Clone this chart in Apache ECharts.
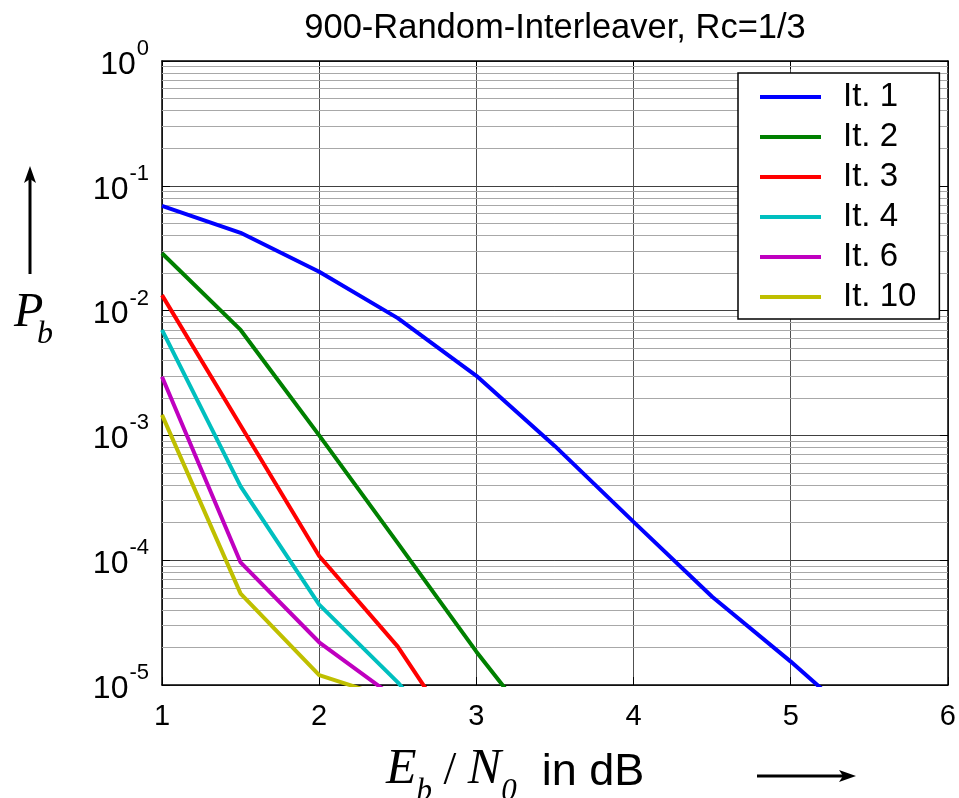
<!DOCTYPE html>
<html lang="en">
<head>
    <meta charset="utf-8">
    <title>900-Random-Interleaver, Rc=1/3</title>
    <script src="https://cdn.jsdelivr.net/npm/echarts@6/dist/echarts.min.js"></script>
    <style>
        html, body {
            margin: 0;
            padding: 0;
            background: #fff;
        }
        #main {
            width: 959px;
            height: 798px;
        }
    </style>
</head>
<body>
<div id="main"></div>
<script>
    // Eb/N0 in dB
    var ebno = [1, 1.5, 2, 2.5, 3, 3.5, 4, 4.5, 5, 5.5];
    // bit error rate per iteration (last points lie below the 1e-5 limit and get clipped)
    var it1 = [0.069, 0.042, 0.0205, 0.0087, 0.003, 0.00082, 0.000203, 0.000051, 0.0000154, 0.0000043];
    var it2 = [0.0288, 0.0070, 0.001, 0.000137, 0.0000185, 0.0000029];
    var it3 = [0.0133, 0.0012, 0.000108, 0.0000203, 0.0000023];
    var it4 = [0.0070, 0.00039, 0.000044, 0.0000105, 0.000002];
    var it6 = [0.00295, 0.000096, 0.000022, 0.0000076];
    var it10 = [0.00146, 0.000054, 0.000012, 0.0000075];

    var names = ['It. 1', 'It. 2', 'It. 3', 'It. 4', 'It. 6', 'It. 10'];
    var colors = ['#0000ff', '#008000', '#ff0000', '#00bfbf', '#bf00bf', '#bfbf00'];
    var xTicks = [1, 2, 3, 4, 5, 6];
    var decades = [-5, -4, -3, -2, -1, 0];

    var sans = '"Liberation Sans", Arial, sans-serif';
    var serif = '"Liberation Serif", "Times New Roman", serif';

    function pairs(ys) {
        var out = [];
        for (var i = 0; i < ys.length; i++) {
            out.push([ebno[i], ys[i]]);
        }
        return out;
    }

    // minor grid lines 2..9 inside each decade
    var minorLines = [];
    for (var d = 0; d < decades.length - 1; d++) {
        for (var m = 2; m <= 9; m++) {
            minorLines.push({yAxis: m * Math.pow(10, decades[d])});
        }
    }

    var allData = [it1, it2, it3, it4, it6, it10];
    var series = [{
        name: 'grid',
        type: 'line',
        data: [],
        z: 1,
        silent: true,
        markLine: {
            silent: true,
            symbol: 'none',
            precision: 12,
            label: {show: false},
            lineStyle: {color: '#a8a8a8', width: 1, type: 'solid'},
            emphasis: {disabled: true},
            animation: false,
            data: minorLines
        }
    }];
    for (var s = 0; s < allData.length; s++) {
        series.push({
            name: names[s],
            type: 'line',
            data: pairs(allData[s]),
            showSymbol: false,
            symbol: 'none',
            clip: true,
            z: 10,
            color: colors[s],
            lineStyle: {color: colors[s], width: 4}
        });
    }

    var chart = echarts.init(document.getElementById('main'));
    var option = {
        animation: false,
        backgroundColor: '#fff',
        grid: {left: 162, top: 61, width: 791, height: 624, containLabel: false},
        legend: {
            data: names,
            orient: 'vertical',
            left: 738,
            top: 73,
            z: 20,
            padding: [4, 23, 2, 22],
            itemGap: 0,
            itemWidth: 61,
            itemHeight: 4,
            icon: 'rect',
            selectedMode: false,
            backgroundColor: '#fff',
            borderColor: '#000',
            borderWidth: 1.5,
            borderRadius: 0,
            textStyle: {
                fontFamily: sans,
                fontSize: 33,
                lineHeight: 40,
                color: '#000',
                padding: [0, 0, 0, 17]
            }
        },
        xAxis: [{
            type: 'value',
            min: 1,
            max: 6,
            interval: 1,
            axisLine: {show: true, lineStyle: {color: '#000', width: 1.5}},
            axisTick: {show: true, inside: true, length: 8, lineStyle: {color: '#000'}},
            axisLabel: {
                fontFamily: sans,
                fontSize: 29,
                color: '#000',
                margin: 17,
                formatter: function (v) {
                    return xTicks.indexOf(v) >= 0 ? String(v) : '';
                }
            },
            splitLine: {show: true, lineStyle: {color: '#505050', width: 1}}
        }, {
            type: 'value',
            position: 'top',
            min: 1,
            max: 6,
            interval: 1,
            axisLine: {show: true, lineStyle: {color: '#000', width: 1.5}},
            axisTick: {show: true, inside: true, length: 8, lineStyle: {color: '#000'}},
            axisLabel: {show: false},
            splitLine: {show: false}
        }],
        yAxis: [{
            type: 'log',
            logBase: 10,
            min: 1e-5,
            max: 1,
            splitNumber: 5,
            axisLine: {show: true, lineStyle: {color: '#000', width: 1.5}},
            axisTick: {show: true, inside: true, length: 8, lineStyle: {color: '#000'}},
            axisLabel: {
                color: '#000',
                margin: 13,
                padding: [8, 0, 0, 0],
                formatter: function (v) {
                    var e = Math.round(Math.log(v) / Math.LN10);
                    return '{b|10}{s|' + e + '}';
                },
                rich: {
                    b: {fontFamily: sans, fontSize: 32, lineHeight: 32, verticalAlign: 'bottom',
                        padding: [0, 0, 0, 0], color: '#000'},
                    s: {fontFamily: sans, fontSize: 22, lineHeight: 22, verticalAlign: 'bottom',
                        padding: [0, 0, 21, 1], color: '#000'}
                }
            },
            splitLine: {show: true, lineStyle: {color: '#404040', width: 1}}
        }, {
            type: 'log',
            logBase: 10,
            min: 1e-5,
            max: 1,
            splitNumber: 5,
            position: 'right',
            axisLine: {show: true, lineStyle: {color: '#000', width: 1.5}},
            axisTick: {show: true, inside: true, length: 8, lineStyle: {color: '#000'}},
            axisLabel: {show: false},
            splitLine: {show: false}
        }],
        graphic: [{
            type: 'text',
            x: 555,
            y: 28,
            style: {
                text: '900-Random-Interleaver, Rc=1/3',
                fontFamily: sans,
                fontSize: 34.5,
                fill: '#000',
                align: 'center',
                verticalAlign: 'middle'
            }
        }, {
            // y label P_b
            type: 'text',
            x: 14,
            y: 303,
            style: {
                text: '{i|P}{u|b}',
                rich: {
                    i: {fontFamily: serif, fontStyle: 'italic', fontSize: 48, lineHeight: 48, width: 23,
                        padding: [0, 0, 14, 0], verticalAlign: 'bottom', fill: '#000'},
                    u: {fontFamily: serif, fontStyle: 'italic', fontSize: 32, lineHeight: 32,
                        verticalAlign: 'bottom', fill: '#000'}
                }
            }
        }, {
            // x label Eb / N0 in dB
            type: 'text',
            x: 386,
            y: 757,
            style: {
                text: '{i|E}{u|b}{n| / }{i|N}{u|0}{t|  in dB}',
                rich: {
                    i: {fontFamily: serif, fontStyle: 'italic', fontSize: 50, lineHeight: 50,
                        padding: [0, 0, 12, 0], verticalAlign: 'bottom', fill: '#000'},
                    n: {fontFamily: serif, fontSize: 46, lineHeight: 50,
                        padding: [0, 0, 12, 0], verticalAlign: 'bottom', fill: '#000'},
                    u: {fontFamily: serif, fontStyle: 'italic', fontSize: 31, lineHeight: 31,
                        verticalAlign: 'bottom', fill: '#000'},
                    t: {fontFamily: sans, fontSize: 45, lineHeight: 50,
                        padding: [0, 0, 12, 0], verticalAlign: 'bottom', fill: '#000'}
                }
            }
        }, {
            type: 'line',
            shape: {x1: 30, y1: 274, x2: 30, y2: 174},
            style: {stroke: '#000', lineWidth: 3}
        }, {
            type: 'polygon',
            shape: {points: [[30, 166], [36, 183], [30, 179], [24, 183]]},
            style: {fill: '#000'}
        }, {
            type: 'line',
            shape: {x1: 757, y1: 776, x2: 847, y2: 776},
            style: {stroke: '#000', lineWidth: 3}
        }, {
            type: 'polygon',
            shape: {points: [[856, 776], [839, 770], [843, 776], [839, 782]]},
            style: {fill: '#000'}
        }],
        series: series
    };
    chart.setOption(option);
</script>
</body>
</html>
